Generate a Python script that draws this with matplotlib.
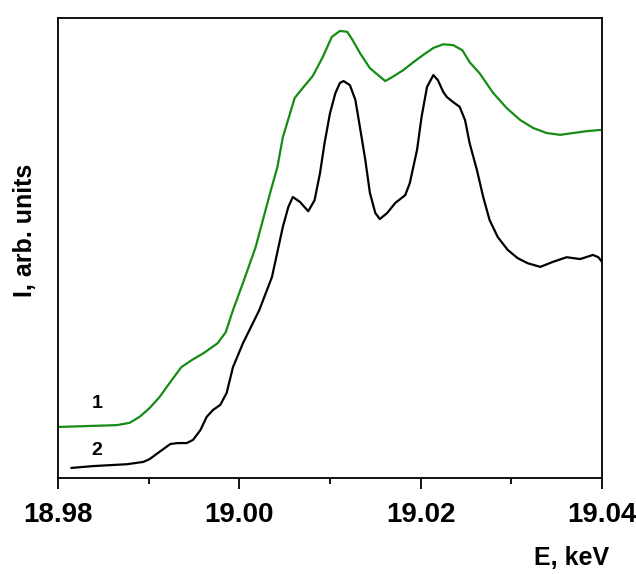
import numpy as np
import matplotlib.pyplot as plt
from matplotlib.ticker import MultipleLocator

plt.rcParams['font.family'] = ['Liberation Sans', 'DejaVu Sans']
plt.rcParams['font.weight'] = 'bold'

# кривая 1 (зелёная)
e1 = [18.9800, 18.9865, 18.9879, 18.9890, 18.9901, 18.9912, 18.9924, 18.9936,
      18.9948, 18.9961, 18.9976, 18.9985, 18.9993, 19.0004, 19.0018, 19.0034,
      19.0042, 19.0048, 19.0056, 19.0061, 19.0070, 19.0081, 19.0092, 19.0102,
      19.0111, 19.0119, 19.0125, 19.0133, 19.0144, 19.0153, 19.0161, 19.0169,
      19.0181, 19.0192, 19.0203, 19.0214, 19.0225, 19.0236, 19.0246, 19.0254,
      19.0265, 19.0280, 19.0295, 19.0310, 19.0324, 19.0339, 19.0354, 19.0368,
      19.0383, 19.0400]
i1 = [11.1, 11.5, 12.0, 13.3, 15.2, 17.6, 20.9, 24.1,
      25.7, 27.2, 29.3, 31.7, 36.5, 42.4, 50.2, 62.0,
      67.6, 74.1, 79.3, 82.6, 84.8, 87.4, 91.5, 95.9,
      97.2, 97.0, 95.2, 92.4, 89.1, 87.6, 86.3, 87.2,
      88.7, 90.4, 92.0, 93.5, 94.3, 94.1, 93.0, 90.4,
      88.0, 83.7, 80.4, 77.8, 76.1, 75.0, 74.6, 75.0,
      75.4, 75.7]

# кривая 2 (чёрная)
e2 = [18.9815, 18.9839, 18.9876, 18.9894, 18.9901, 18.9912, 18.9924, 18.9932,
      18.9942, 18.9949, 18.9957, 18.9964, 18.9971, 18.9979, 18.9986, 18.9993,
      19.0004, 19.0022, 19.0036, 19.0048, 19.0054, 19.0059, 19.0067, 19.0076,
      19.0083, 19.0089, 19.0094, 19.0100, 19.0106, 19.0111, 19.0115, 19.0122,
      19.0128, 19.0133, 19.0139, 19.0144, 19.0150, 19.0155, 19.0163, 19.0172,
      19.0183, 19.0188, 19.0196, 19.0201, 19.0207, 19.0214, 19.0219, 19.0225,
      19.0229, 19.0236, 19.0243, 19.0249, 19.0254, 19.0262, 19.0269, 19.0276,
      19.0285, 19.0296, 19.0307, 19.0318, 19.0332, 19.0346, 19.0361, 19.0376,
      19.0390, 19.0396, 19.0400]
i2 = [2.2, 2.6, 3.0, 3.5, 4.1, 5.7, 7.4, 7.6,
      7.6, 8.3, 10.4, 13.3, 14.8, 15.9, 18.5, 24.1,
      29.3, 36.5, 43.7, 54.6, 58.9, 61.1, 60.0, 58.0,
      60.4, 66.3, 72.8, 79.3, 83.7, 85.9, 86.3, 85.4,
      82.2, 76.3, 69.1, 62.0, 57.6, 56.3, 57.6, 59.8,
      61.5, 64.1, 71.3, 78.5, 85.0, 87.6, 86.5, 83.9,
      82.8, 81.7, 80.7, 77.8, 72.8, 67.0, 61.1, 56.1,
      52.4, 49.6, 47.8, 46.7, 45.9, 47.0, 48.0, 47.6,
      48.5, 48.0, 47.0]

fig = plt.figure(figsize=(6.36, 5.74), dpi=100)
ax = fig.add_axes([0.0912, 0.1672, 0.8553, 0.8014])

ax.plot(e1, i1, color='#168c16', linewidth=1.6)
ax.plot(e2, i2, color='black', linewidth=1.6)

ax.text(18.9843, 16.3, '1', fontsize=14, fontweight='bold', ha='center', va='center')
ax.text(18.9843, 5.9, '2', fontsize=14, fontweight='bold', ha='center', va='center')

ax.set_xlim(18.98, 19.04)
ax.set_ylim(0, 100)
ax.xaxis.set_minor_locator(MultipleLocator(0.01))
ax.set_xticks([18.98, 19.00, 19.02, 19.04])
ax.set_xticklabels(['18.98', '19.00', '19.02', '19.04'])
ax.set_yticks([])
ax.tick_params(axis='x', which='major', direction='out', length=8, width=1.3,
               labelsize=20, pad=9)
ax.tick_params(axis='x', which='minor', direction='out', length=4.5, width=1.3)
for s in ax.spines.values():
    s.set_linewidth(1.3)

fig.text(0.898, 0.028, 'E, keV', fontsize=18, fontweight='bold', ha='center', va='center')
fig.text(0.040, 0.598, 'I, arb. units', fontsize=18, fontweight='bold', ha='center',
         va='center', rotation=90)

fig.savefig('out.png', dpi=100)
